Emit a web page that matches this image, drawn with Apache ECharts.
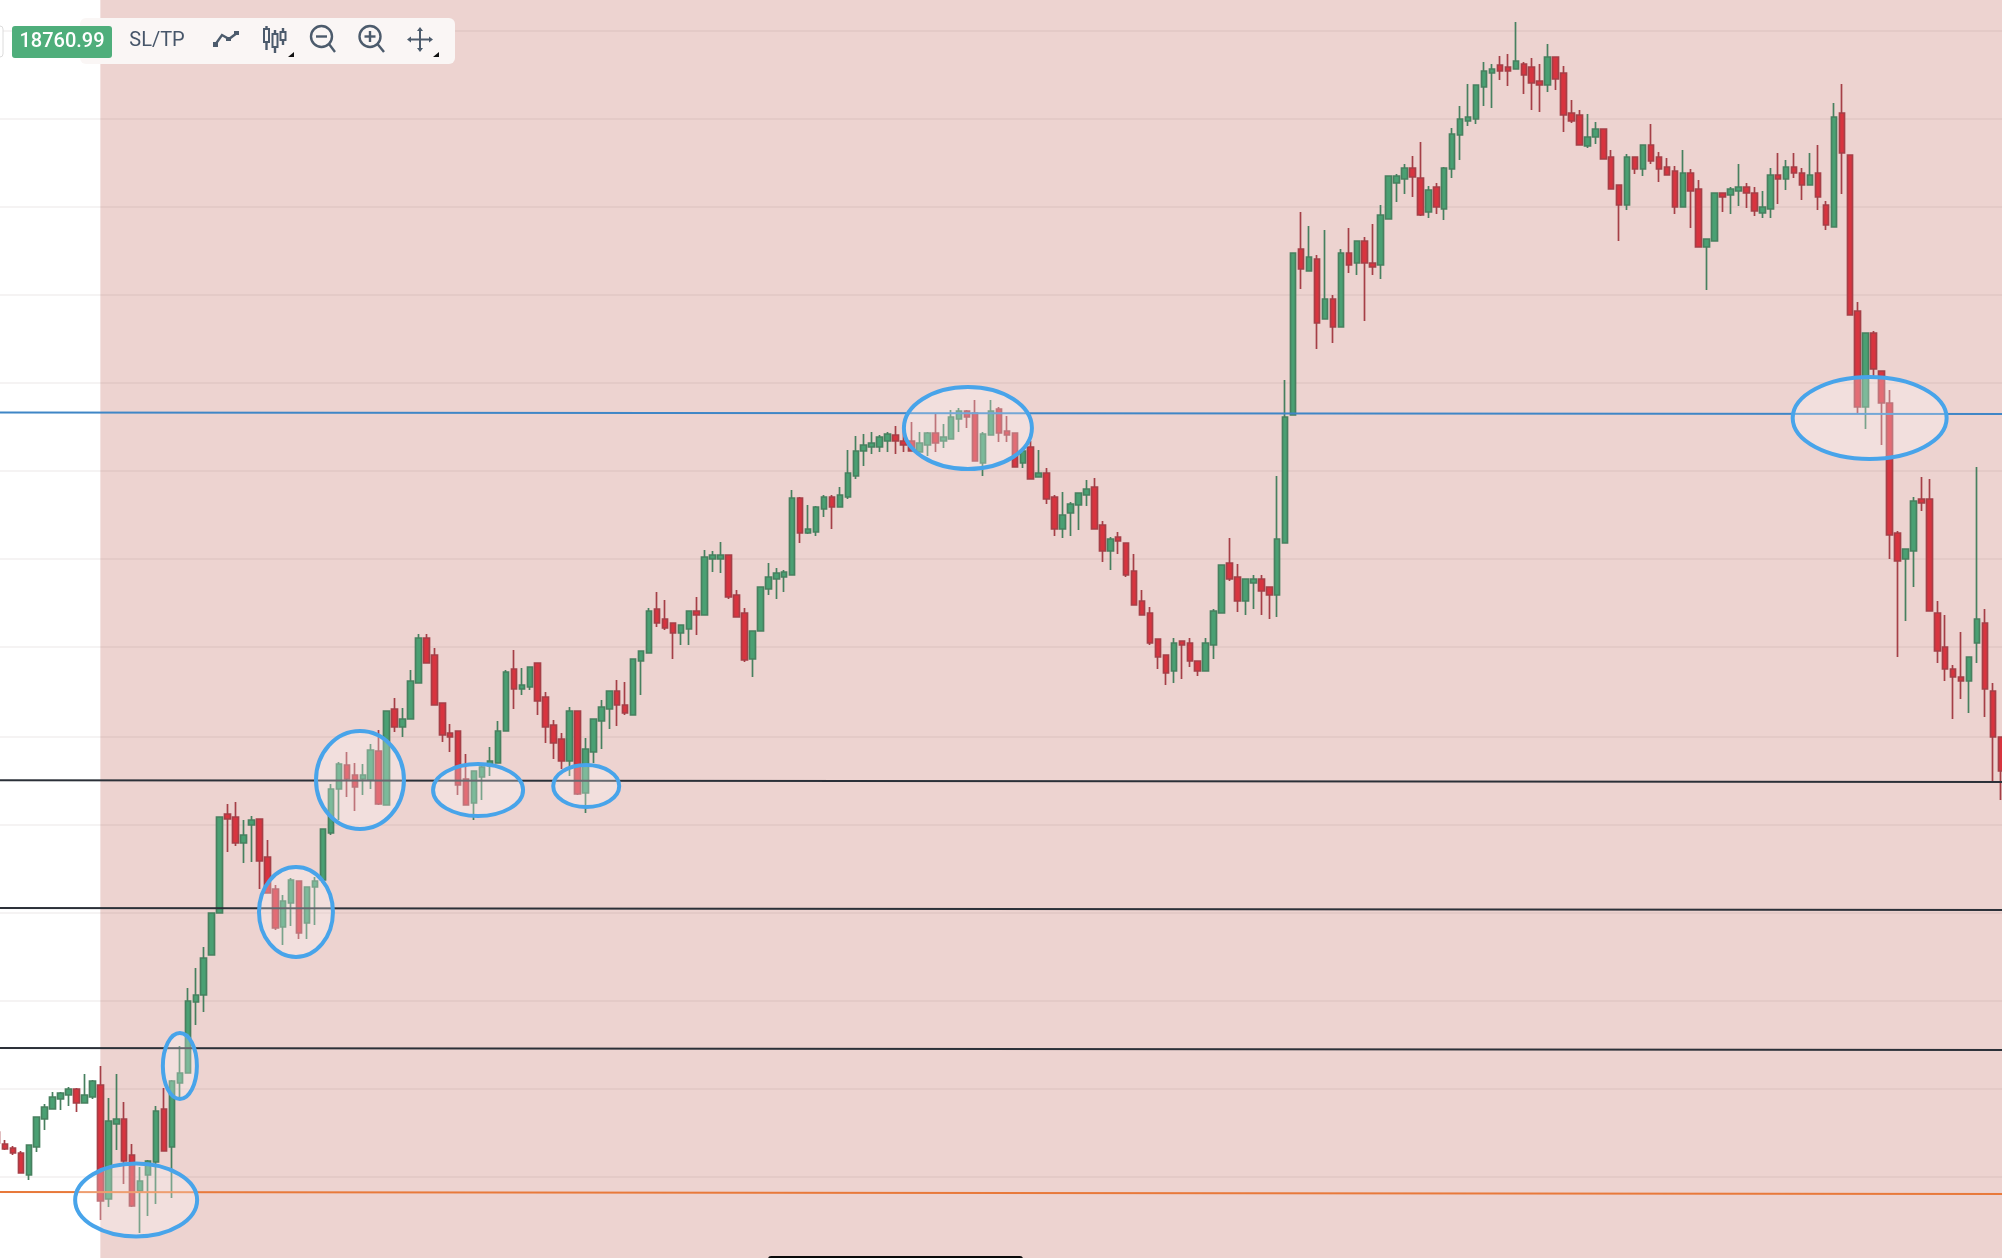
<!DOCTYPE html>
<html>
<head>
<meta charset="utf-8">
<style>
html,body{margin:0;padding:0;background:#fff;width:2002px;height:1258px;overflow:hidden}
#chart{width:2002px;height:1258px}
#chart canvas{filter:blur(0.5px)}
</style>
<script src="https://cdn.jsdelivr.net/npm/echarts@6/dist/echarts.min.js"></script>
</head>
<body>
<div id="chart"></div>
<script>
const opens = [
18368,18356,18352,18347,18325,18353,18381,18391,18401,18405,
18411,18397,18403,18415,18301,18376,18381,18345,18309,18325,
18338,18391,18353,18417,18427,18498,18505,18545,18587,18686,
18683,18657,18675,18681,18643,18611,18573,18597,18619,18577,
18613,18620,18667,18711,18735,18725,18721,18720,18749,18695,
18791,18773,18781,18817,18862,18845,18797,18767,18769,18721,
18697,18723,18734,18737,18769,18831,18811,18813,18837,18803,
18775,18761,18739,18789,18707,18748,18779,18791,18809,18795,
18785,18839,18847,18891,18881,18877,18867,18871,18889,18885,
18941,18941,18945,18905,18887,18841,18869,18911,18921,18923,
18925,19002,18967,18968,18991,19003,18993,19003,19024,19049,
19053,19053,19059,19065,19059,19059,19048,19055,19067,19059,
19061,19081,19089,19087,19037,19065,19091,19069,19067,19037,
19053,19023,19027,19003,18971,18987,18995,19005,19013,18975,
18949,18963,18957,18929,18899,18887,18861,18845,18829,18859,
18857,18839,18829,18855,18887,18937,18923,18899,18917,18921,
18913,18905,18957,19085,19251,19229,19241,19181,19201,19173,
19247,19237,19259,19237,19235,19281,19317,19321,19332,19322,
19288,19313,19291,19331,19365,19379,19381,19413,19427,19435,
19433,19431,19436,19433,19419,19415,19443,19427,19387,19385,
19354,19363,19371,19343,19315,19295,19343,19331,19355,19343,
19333,19329,19293,19327,19311,19253,19259,19307,19305,19309,
19313,19307,19287,19291,19325,19321,19333,19327,19315,19327,
19295,19273,19387,19345,19189,19093,19167,19129,19097,18967,
18941,18949,19001,19001,18887,18853,18831,18823,18819,18857,
18877,18809,18763];
const closes = [
18357,18351,18347,18327,18355,18383,18393,18403,18407,18411,
18397,18405,18419,18299,18379,18381,18339,18294,18319,18339,
18389,18349,18419,18427,18499,18505,18542,18587,18683,18681,
18657,18665,18680,18639,18607,18572,18599,18620,18567,18613,
18619,18671,18711,18736,18721,18713,18725,18750,18696,18789,
18773,18781,18819,18862,18837,18795,18765,18763,18715,18695,
18729,18733,18739,18769,18828,18811,18815,18833,18799,18773,
18757,18739,18789,18706,18751,18781,18793,18809,18795,18787,
18841,18849,18889,18877,18872,18867,18875,18889,18885,18943,
18945,18945,18903,18883,18840,18869,18913,18923,18927,18928,
19002,18967,18971,18993,19003,18993,19005,19027,19049,19055,
19057,19063,19066,19059,19055,19049,19057,19067,19057,19063,
19083,19089,19083,19039,19066,19089,19067,19065,19033,19049,
19021,19027,19001,18971,18985,18996,19007,19011,18971,18949,
18961,18959,18925,18895,18885,18857,18843,18827,18857,18855,
18839,18829,18857,18889,18935,18921,18899,18921,18921,18909,
18905,18961,19083,19247,19231,19243,19177,19201,19173,19247,
19235,19259,19237,19233,19285,19324,19324,19332,19323,19285,
19310,19293,19332,19366,19381,19383,19415,19429,19431,19429,
19429,19439,19425,19417,19415,19443,19421,19385,19379,19355,
19363,19371,19341,19311,19295,19343,19331,19355,19339,19331,
19325,19293,19327,19309,19253,19261,19307,19303,19311,19313,
19307,19289,19293,19325,19321,19333,19327,19315,19325,19303,
19275,19383,19347,19185,19093,19167,19131,19097,18965,18939,
18951,18999,18997,18889,18849,18831,18823,18819,18843,18881,
18811,18763,18729];
const lows = [
18355,18350,18345,18327,18320,18348,18370,18391,18390,18394,
18388,18397,18401,18280,18293,18350,18316,18293,18267,18284,
18296,18349,18302,18403,18427,18475,18488,18545,18587,18648,
18654,18637,18638,18611,18607,18570,18555,18574,18561,18561,
18575,18617,18665,18680,18703,18689,18705,18711,18695,18695,
18768,18763,18781,18817,18837,18795,18758,18748,18705,18695,
18680,18700,18724,18737,18769,18791,18805,18810,18785,18757,
18741,18731,18724,18705,18687,18737,18751,18771,18774,18785,
18785,18805,18847,18873,18870,18841,18855,18855,18865,18885,
18928,18927,18901,18883,18838,18823,18869,18905,18901,18908,
18925,18957,18966,18964,18983,18971,18993,19001,19021,19034,
19046,19048,19048,19046,19048,19049,19048,19044,19048,19052,
19061,19068,19072,19039,19024,19065,19058,19058,19033,19032,
19021,19023,18996,18964,18962,18964,18970,18994,18971,18938,
18930,18946,18923,18895,18885,18855,18831,18815,18817,18821,
18833,18824,18829,18841,18887,18919,18888,18885,18891,18885,
18881,18883,18957,19085,19211,19229,19151,19181,19157,19173,
19227,19225,19179,19225,19221,19281,19298,19306,19303,19284,
19282,19286,19280,19322,19340,19374,19376,19394,19392,19420,
19414,19431,19406,19390,19388,19408,19410,19368,19377,19355,
19352,19356,19341,19311,19259,19290,19326,19324,19336,19318,
19325,19286,19293,19272,19253,19210,19259,19288,19286,19294,
19292,19284,19282,19282,19296,19310,19322,19300,19315,19290,
19270,19273,19306,19185,19087,19071,19122,19055,18941,18843,
18879,18913,18989,18889,18837,18819,18781,18801,18787,18837,
18783,18719,18700];
const highs = [
18370,18360,18354,18349,18355,18383,18396,18408,18408,18413,
18412,18426,18420,18434,18402,18426,18398,18356,18333,18340,
18394,18412,18420,18454,18512,18532,18553,18587,18683,18696,
18698,18680,18684,18681,18660,18615,18605,18622,18619,18613,
18623,18671,18716,18738,18748,18737,18736,18756,18770,18789,
18802,18792,18830,18866,18866,18852,18797,18776,18769,18746,
18729,18737,18753,18779,18830,18850,18832,18833,18837,18808,
18780,18767,18793,18789,18762,18781,18800,18809,18820,18818,
18841,18849,18892,18908,18900,18877,18875,18889,18903,18950,
18949,18958,18945,18910,18892,18869,18913,18937,18932,18930,
19010,19003,18995,18994,19005,19005,19013,19050,19064,19066,
19068,19065,19068,19074,19075,19078,19068,19068,19086,19076,
19090,19092,19090,19100,19068,19100,19093,19084,19067,19049,
19059,19050,19032,19005,19008,18998,19007,19020,19022,18979,
18963,18968,18957,18946,18910,18893,18861,18845,18862,18859,
18862,18839,18862,18891,18935,18962,18936,18921,18925,18925,
18913,19024,19120,19247,19288,19274,19245,19270,19205,19251,
19272,19259,19263,19276,19295,19324,19326,19336,19344,19358,
19314,19317,19333,19372,19394,19416,19415,19438,19436,19444,
19446,19478,19438,19442,19436,19456,19443,19434,19400,19390,
19386,19378,19371,19350,19315,19346,19343,19355,19376,19348,
19342,19334,19350,19331,19320,19261,19307,19307,19313,19336,
19317,19313,19309,19332,19347,19340,19347,19332,19347,19355,
19299,19397,19416,19345,19198,19167,19169,19129,19110,18969,
18951,19003,19023,19021,18899,18885,18835,18868,18843,19033,
18891,18817,18763];

// horizontal price grid and the hand-drawn levels (start and end price of each)
const gridPrices = [19469,19381,19293,19205,19117,19029,18941,18853,18763,18675,18587,18499,18411,18323];
const levelNames = ['resistance','support 1','support 2','support 3','base'];
const levelStart = [19087.5,18719.7,18592,18452,18308];
const levelEnd   = [19086,18718,18590,18450,18306];
const levelColors = ['#3f86c6','#2b3038','#2b3038','#2b3038','#e8793a'];

// circled zones: centre (candle index, price) and radii (candles, price)
const zoneCandle = [17.5,23.0,37.6,45.65,60.5,74.1,122.1,235.5];
const zonePrice  = [18300,18434,18588,18720,18710,18714,19072,19082];
const zoneRadiusCandles = [7.67,2.14,4.65,5.53,5.66,4.15,8.05,9.68];
const zoneRadiusPrice   = [36.5,33,45,49,26,21,41,41];

const shadedFrom = 13;
const categories = Array.from({length: opens.length + 1}, (_, i) => String(i));
const lastCat = categories.length - 1;

const chart = echarts.init(document.getElementById('chart'), null, {renderer:'canvas', width:2002, height:1258});
const iconColor = '#4c5b6c';
const iconLine = {stroke:iconColor, lineWidth:2.4, fill:'none'};
const ic = (type, shape, style) => ({type, shape, style: style || iconLine, z:50, silent:true});

chart.setOption({
  animation:false,
  backgroundColor:'transparent',
  grid:{left:-7, top:0, width:2019.8, height:1258, show:false, containLabel:false, outerBoundsMode:'none'},
  xAxis:{type:'category', data:categories, boundaryGap:true, show:false},
  yAxis:{type:'value', min:18242, max:19500, show:false, splitLine:{show:false}},
  tooltip:{show:false},
  series:[
    {
      type:'line', data:[], z:1, silent:true,
      markLine:{
        z:1, silent:true, symbol:'none', animation:false, label:{show:false},
        lineStyle:{color:'rgba(120,90,90,0.07)', type:'solid', width:2},
        data:gridPrices.map(p => ({yAxis:p}))
      }
    },
    {
      type:'candlestick',
      name:'BTC',
      z:2,
      silent:true,
      barWidth:6,
      data:opens.map((o,i) => [o, closes[i], lows[i], highs[i]]),
      itemStyle:{color:'#4aa073', color0:'#d8343f', borderColor:'#47805f', borderColor0:'#a53f47', borderWidth:1.7},
      markArea:{
        z:0, silent:true, animation:false, label:{show:false},
        itemStyle:{color:'#edd3d0', borderWidth:0},
        data:[[{xAxis:shadedFrom},{xAxis:lastCat}]]
      },
      markLine:{
        z:3, silent:true, symbol:'none', animation:false, label:{show:false},
        data:levelNames.map((n,i) => [
          {name:n, xAxis:0, yAxis:levelStart[i], lineStyle:{color:levelColors[i], width:2, type:'solid'}},
          {xAxis:lastCat, yAxis:levelEnd[i]}
        ])
      }
    },
    {
      type:'custom',
      z:10,
      silent:true,
      clip:false,
      data:zoneCandle.map((c,i) => [Math.floor(c), zonePrice[i]]),
      encode:{x:0,y:1},
      renderItem(params, api){
        const i = params.dataIndex;
        const base = Math.floor(zoneCandle[i]);
        const p = api.coord([base, zonePrice[i]]);
        const band = api.size([1,0])[0];
        const ry = api.size([0, zoneRadiusPrice[i]])[1];
        return {
          type:'ellipse',
          shape:{cx:p[0] + (zoneCandle[i]-base)*band, cy:p[1], rx:zoneRadiusCandles[i]*band, ry:ry},
          style:{fill:'rgba(255,255,255,0.28)', stroke:'#48a4ea', lineWidth:4}
        };
      }
    }
  ],
  graphic:[
    {type:'rect', shape:{x:80,y:18,width:375,height:46,r:6}, style:{fill:'#faf6f5'}, z:49, silent:true},
    {type:'rect', shape:{x:-8,y:26,width:11,height:31,r:3}, style:{fill:'#fff',stroke:'#dcdcdc',lineWidth:1}, z:49, silent:true},
    {type:'rect', shape:{x:12,y:26,width:100,height:32,r:3}, style:{fill:'#4fae7b'}, z:50, silent:true},
    {type:'text', x:62, y:42, z:51, silent:true, style:{text:'18760.99', fill:'#fff', font:'500 20px Roboto', align:'center', verticalAlign:'middle'}},
    {type:'text', x:157, y:41, z:51, silent:true, style:{text:'SL/TP', fill:'#47566a', font:'400 20px Roboto', align:'center', verticalAlign:'middle'}},
    // line icon
    ic('polyline',{points:[[215,45],[222,35],[229,39],[237,33]]}),
    ic('rect',{x:213,y:42,width:5,height:5},{fill:iconColor}),
    ic('rect',{x:226,y:37,width:5,height:4},{fill:iconColor}),
    ic('rect',{x:234,y:31,width:5,height:4},{fill:iconColor}),
    // candles icon
    ic('line',{x1:266.5,y1:26,x2:266.5,y2:50}), ic('rect',{x:264,y:29,width:5,height:13},{fill:'#faf6f5',stroke:iconColor,lineWidth:2}),
    ic('line',{x1:275,y1:30,x2:275,y2:53}), ic('rect',{x:272.5,y:34,width:5,height:13},{fill:'#faf6f5',stroke:iconColor,lineWidth:2}),
    ic('line',{x1:283,y1:28,x2:283,y2:45}), ic('rect',{x:280.5,y:32,width:5,height:8},{fill:'#faf6f5',stroke:iconColor,lineWidth:2}),
    ic('polygon',{points:[[294,52],[294,57],[288,57]]},{fill:'#111'}),
    // zoom out
    ic('circle',{cx:321.5,cy:36.5,r:10.5}), ic('line',{x1:329,y1:44,x2:335,y2:52}), ic('line',{x1:316,y1:36.5,x2:327,y2:36.5}),
    // zoom in
    ic('circle',{cx:370,cy:36.5,r:10.5}), ic('line',{x1:377.5,y1:44,x2:384,y2:52}), ic('line',{x1:364.5,y1:36.5,x2:375.5,y2:36.5}), ic('line',{x1:370,y1:31,x2:370,y2:42}),
    // move
    ic('line',{x1:409,y1:39.5,x2:431,y2:39.5},{stroke:iconColor,lineWidth:2}), ic('line',{x1:420,y1:29,x2:420,y2:50},{stroke:iconColor,lineWidth:2}),
    ic('polygon',{points:[[407,39.5],[411,36.5],[411,42.5]]},{fill:iconColor}),
    ic('polygon',{points:[[433,39.5],[429,36.5],[429,42.5]]},{fill:iconColor}),
    ic('polygon',{points:[[420,27],[417,31],[423,31]]},{fill:iconColor}),
    ic('polygon',{points:[[420,52],[417,48],[423,48]]},{fill:iconColor}),
    ic('polygon',{points:[[439,52],[439,57],[433,57]]},{fill:'#111'}),
    // bottom handle
    {type:'rect', shape:{x:768,y:1256,width:255,height:6,r:4}, style:{fill:'#0a0a0a'}, z:50, silent:true}
  ]
});
</script>
</body>
</html>
